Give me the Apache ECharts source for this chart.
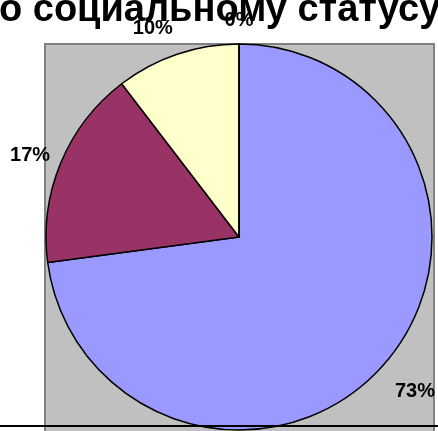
<!DOCTYPE html>
<html>
<head>
<meta charset="utf-8">
<script src="https://cdn.jsdelivr.net/npm/echarts@6/dist/echarts.min.js"></script>
<style>html,body{margin:0;padding:0;background:#fff;}#c{width:438px;height:431px;}</style>
</head>
<body>
<div id="c"></div>
<script>
const titleText = 'о социальному статусу';
const categories = ['Категория 1', 'Категория 2', 'Категория 3', 'Категория 4'];
const values = [72.9, 16.7, 10.4, 0];
const colors = ['#9999FF', '#993366', '#FFFFCC', '#CCFFFF'];

const CX = 239, CY = 237, R = 193;
// label placement (style): radial gap beyond the rim, plus small nudges
const labelGap = [41, 31, 32, 24];
const labelNudge = [[0, 0], [-2, 4], [-14, 5], [0, 0]];
const total = values.reduce((a, b) => a + b, 0);
const mids = [];
let acc = 0;
values.forEach(v => { mids.push((acc + v / 2) / total * 2 * Math.PI); acc += v; });

const chart = echarts.init(document.getElementById('c'), null, {renderer: 'canvas'});
chart.setOption({
  animation: false,
  graphic: [
    {type: 'rect', z: -10, shape: {x: 45, y: 44, width: 389, height: 400},
     style: {fill: '#C0C0C0', stroke: '#808080', lineWidth: 2}},
    {type: 'text', x: -1, y: 11, z: 10,
     style: {text: titleText, fontSize: 38, fontWeight: 'bold',
             fontFamily: '"Liberation Sans", Arial, sans-serif', fill: '#000',
             align: 'left', verticalAlign: 'middle'}},
    {type: 'line', z: 100, shape: {x1: 0, y1: 426, x2: 438, y2: 426},
     style: {stroke: '#000', lineWidth: 2}}
  ],
  series: [{
    type: 'pie',
    center: [CX, CY],
    radius: R,
    startAngle: 90,
    clockwise: true,
    avoidLabelOverlap: false,
    stillShowZeroSum: true,
    minShowLabelAngle: 0,
    itemStyle: {borderColor: '#000', borderWidth: 1.5},
    label: {
      show: true, position: 'outside',
      formatter: p => Math.round(p.percent) + '%',
      fontFamily: '"Liberation Sans", Arial, sans-serif',
      fontWeight: 'bold', fontSize: 20, color: '#000'
    },
    labelLine: {show: false, length: 10, length2: 0},
    labelLayout: function (params) {
      const i = params.dataIndex;
      const a = mids[i];
      const d = R + labelGap[i];
      return {
        x: CX + Math.sin(a) * d + labelNudge[i][0],
        y: CY - Math.cos(a) * d + labelNudge[i][1],
        align: 'center',
        verticalAlign: 'middle'
      };
    },
    data: categories.map((c, i) => ({name: c, value: values[i], itemStyle: {color: colors[i]}}))
  }]
});
</script>
</body>
</html>
